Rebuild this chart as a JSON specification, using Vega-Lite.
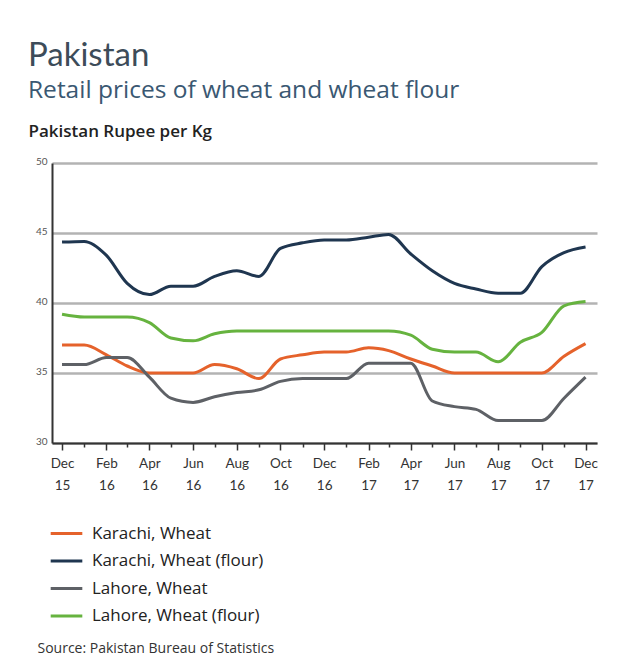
{
  "$schema": "https://vega.github.io/schema/vega-lite/v6.json",
  "width": 545,
  "height": 280,
  "autosize": "none",
  "padding": {"left": 52, "top": 163, "right": 25, "bottom": 223},
  "background": "white",
  "title": {
    "text": "Pakistan",
    "subtitle": "Retail prices of wheat and wheat flour",
    "anchor": "start",
    "offset": 20,
    "font": "Lato",
    "fontSize": 33,
    "fontWeight": "normal",
    "color": "#3d4c59",
    "subtitleFont": "Open Sans",
    "subtitleFontSize": 24.5,
    "subtitleColor": "#3a5872",
    "subtitlePadding": 6
  },
  "data": {
    "values": [
      {"date": "2015-12-01", "series": "Karachi, Wheat", "value": 37.0},
      {"date": "2016-01-01", "series": "Karachi, Wheat", "value": 37.0},
      {"date": "2016-02-01", "series": "Karachi, Wheat", "value": 36.3},
      {"date": "2016-03-01", "series": "Karachi, Wheat", "value": 35.5},
      {"date": "2016-04-01", "series": "Karachi, Wheat", "value": 35.0},
      {"date": "2016-05-01", "series": "Karachi, Wheat", "value": 35.0},
      {"date": "2016-06-01", "series": "Karachi, Wheat", "value": 35.0},
      {"date": "2016-07-01", "series": "Karachi, Wheat", "value": 35.6},
      {"date": "2016-08-01", "series": "Karachi, Wheat", "value": 35.3},
      {"date": "2016-09-01", "series": "Karachi, Wheat", "value": 34.6},
      {"date": "2016-10-01", "series": "Karachi, Wheat", "value": 36.0},
      {"date": "2016-11-01", "series": "Karachi, Wheat", "value": 36.3},
      {"date": "2016-12-01", "series": "Karachi, Wheat", "value": 36.5},
      {"date": "2017-01-01", "series": "Karachi, Wheat", "value": 36.5},
      {"date": "2017-02-01", "series": "Karachi, Wheat", "value": 36.8},
      {"date": "2017-03-01", "series": "Karachi, Wheat", "value": 36.6},
      {"date": "2017-04-01", "series": "Karachi, Wheat", "value": 36.0},
      {"date": "2017-05-01", "series": "Karachi, Wheat", "value": 35.5},
      {"date": "2017-06-01", "series": "Karachi, Wheat", "value": 35.0},
      {"date": "2017-07-01", "series": "Karachi, Wheat", "value": 35.0},
      {"date": "2017-08-01", "series": "Karachi, Wheat", "value": 35.0},
      {"date": "2017-09-01", "series": "Karachi, Wheat", "value": 35.0},
      {"date": "2017-10-01", "series": "Karachi, Wheat", "value": 35.0},
      {"date": "2017-11-01", "series": "Karachi, Wheat", "value": 36.2},
      {"date": "2017-12-01", "series": "Karachi, Wheat", "value": 37.1},
      {"date": "2015-12-01", "series": "Karachi, Wheat (flour)", "value": 44.35},
      {"date": "2016-01-01", "series": "Karachi, Wheat (flour)", "value": 44.4},
      {"date": "2016-02-01", "series": "Karachi, Wheat (flour)", "value": 43.4},
      {"date": "2016-03-01", "series": "Karachi, Wheat (flour)", "value": 41.4},
      {"date": "2016-04-01", "series": "Karachi, Wheat (flour)", "value": 40.6},
      {"date": "2016-05-01", "series": "Karachi, Wheat (flour)", "value": 41.2},
      {"date": "2016-06-01", "series": "Karachi, Wheat (flour)", "value": 41.2},
      {"date": "2016-07-01", "series": "Karachi, Wheat (flour)", "value": 41.9},
      {"date": "2016-08-01", "series": "Karachi, Wheat (flour)", "value": 42.3},
      {"date": "2016-09-01", "series": "Karachi, Wheat (flour)", "value": 41.9},
      {"date": "2016-10-01", "series": "Karachi, Wheat (flour)", "value": 43.9},
      {"date": "2016-11-01", "series": "Karachi, Wheat (flour)", "value": 44.3},
      {"date": "2016-12-01", "series": "Karachi, Wheat (flour)", "value": 44.5},
      {"date": "2017-01-01", "series": "Karachi, Wheat (flour)", "value": 44.5},
      {"date": "2017-02-01", "series": "Karachi, Wheat (flour)", "value": 44.7},
      {"date": "2017-03-01", "series": "Karachi, Wheat (flour)", "value": 44.9},
      {"date": "2017-04-01", "series": "Karachi, Wheat (flour)", "value": 43.5},
      {"date": "2017-05-01", "series": "Karachi, Wheat (flour)", "value": 42.3},
      {"date": "2017-06-01", "series": "Karachi, Wheat (flour)", "value": 41.4},
      {"date": "2017-07-01", "series": "Karachi, Wheat (flour)", "value": 41.0},
      {"date": "2017-08-01", "series": "Karachi, Wheat (flour)", "value": 40.7},
      {"date": "2017-09-01", "series": "Karachi, Wheat (flour)", "value": 40.7},
      {"date": "2017-10-01", "series": "Karachi, Wheat (flour)", "value": 42.6},
      {"date": "2017-11-01", "series": "Karachi, Wheat (flour)", "value": 43.6},
      {"date": "2017-12-01", "series": "Karachi, Wheat (flour)", "value": 44.0},
      {"date": "2015-12-01", "series": "Lahore, Wheat", "value": 35.6},
      {"date": "2016-01-01", "series": "Lahore, Wheat", "value": 35.6},
      {"date": "2016-02-01", "series": "Lahore, Wheat", "value": 36.1},
      {"date": "2016-03-01", "series": "Lahore, Wheat", "value": 36.1},
      {"date": "2016-04-01", "series": "Lahore, Wheat", "value": 34.7},
      {"date": "2016-05-01", "series": "Lahore, Wheat", "value": 33.2},
      {"date": "2016-06-01", "series": "Lahore, Wheat", "value": 32.9},
      {"date": "2016-07-01", "series": "Lahore, Wheat", "value": 33.3},
      {"date": "2016-08-01", "series": "Lahore, Wheat", "value": 33.6},
      {"date": "2016-09-01", "series": "Lahore, Wheat", "value": 33.8},
      {"date": "2016-10-01", "series": "Lahore, Wheat", "value": 34.4},
      {"date": "2016-11-01", "series": "Lahore, Wheat", "value": 34.6},
      {"date": "2016-12-01", "series": "Lahore, Wheat", "value": 34.6},
      {"date": "2017-01-01", "series": "Lahore, Wheat", "value": 34.6},
      {"date": "2017-02-01", "series": "Lahore, Wheat", "value": 35.7},
      {"date": "2017-03-01", "series": "Lahore, Wheat", "value": 35.7},
      {"date": "2017-04-01", "series": "Lahore, Wheat", "value": 35.7},
      {"date": "2017-05-01", "series": "Lahore, Wheat", "value": 33.0},
      {"date": "2017-06-01", "series": "Lahore, Wheat", "value": 32.6},
      {"date": "2017-07-01", "series": "Lahore, Wheat", "value": 32.4},
      {"date": "2017-08-01", "series": "Lahore, Wheat", "value": 31.6},
      {"date": "2017-09-01", "series": "Lahore, Wheat", "value": 31.6},
      {"date": "2017-10-01", "series": "Lahore, Wheat", "value": 31.6},
      {"date": "2017-11-01", "series": "Lahore, Wheat", "value": 33.2},
      {"date": "2017-12-01", "series": "Lahore, Wheat", "value": 34.7},
      {"date": "2015-12-01", "series": "Lahore, Wheat (flour)", "value": 39.2},
      {"date": "2016-01-01", "series": "Lahore, Wheat (flour)", "value": 39.0},
      {"date": "2016-02-01", "series": "Lahore, Wheat (flour)", "value": 39.0},
      {"date": "2016-03-01", "series": "Lahore, Wheat (flour)", "value": 39.0},
      {"date": "2016-04-01", "series": "Lahore, Wheat (flour)", "value": 38.6},
      {"date": "2016-05-01", "series": "Lahore, Wheat (flour)", "value": 37.5},
      {"date": "2016-06-01", "series": "Lahore, Wheat (flour)", "value": 37.3},
      {"date": "2016-07-01", "series": "Lahore, Wheat (flour)", "value": 37.8},
      {"date": "2016-08-01", "series": "Lahore, Wheat (flour)", "value": 38.0},
      {"date": "2016-09-01", "series": "Lahore, Wheat (flour)", "value": 38.0},
      {"date": "2016-10-01", "series": "Lahore, Wheat (flour)", "value": 38.0},
      {"date": "2016-11-01", "series": "Lahore, Wheat (flour)", "value": 38.0},
      {"date": "2016-12-01", "series": "Lahore, Wheat (flour)", "value": 38.0},
      {"date": "2017-01-01", "series": "Lahore, Wheat (flour)", "value": 38.0},
      {"date": "2017-02-01", "series": "Lahore, Wheat (flour)", "value": 38.0},
      {"date": "2017-03-01", "series": "Lahore, Wheat (flour)", "value": 38.0},
      {"date": "2017-04-01", "series": "Lahore, Wheat (flour)", "value": 37.7},
      {"date": "2017-05-01", "series": "Lahore, Wheat (flour)", "value": 36.7},
      {"date": "2017-06-01", "series": "Lahore, Wheat (flour)", "value": 36.5},
      {"date": "2017-07-01", "series": "Lahore, Wheat (flour)", "value": 36.5},
      {"date": "2017-08-01", "series": "Lahore, Wheat (flour)", "value": 35.8},
      {"date": "2017-09-01", "series": "Lahore, Wheat (flour)", "value": 37.2},
      {"date": "2017-10-01", "series": "Lahore, Wheat (flour)", "value": 37.9},
      {"date": "2017-11-01", "series": "Lahore, Wheat (flour)", "value": 39.8},
      {"date": "2017-12-01", "series": "Lahore, Wheat (flour)", "value": 40.1}
    ]
  },
  "mark": {"type": "line", "strokeWidth": 3, "interpolate": "monotone"},
  "encoding": {
    "x": {
      "field": "date",
      "type": "temporal",
      "scale": {
        "type": "utc",
        "domain": [
          {"year": 2015, "month": 11, "date": 17, "utc": true},
          {"year": 2017, "month": 12, "date": 17, "utc": true}
        ]
      },
      "axis": {
        "tickCount": {"interval": "month", "step": 1},
        "grid": false,
        "domainColor": "#333333",
        "domainWidth": 2,
        "tickColor": "#333333",
        "tickWidth": 1.5,
        "tickSize": {"condition": {"test": "utcmonth(datum.value) % 2 == 1", "value": 7}, "value": 4},
        "labelExpr": "utcmonth(datum.value) % 2 == 1 ? [utcFormat(datum.value, '%b'), utcFormat(datum.value, '%y')] : ''",
        "labelOverlap": false,
        "labelFlush": false,
        "labelFont": "Lato",
        "labelFontSize": 13.5,
        "labelColor": "#333333",
        "labelLineHeight": 22,
        "labelPadding": 6,
        "title": "Source: Pakistan Bureau of Statistics",
        "titleFont": "Open Sans",
        "titleFontSize": 14,
        "titleFontWeight": "normal",
        "titleColor": "#333333",
        "titleAlign": "left",
        "titleBaseline": "alphabetic",
        "titleAnchor": "start",
        "titleX": -15,
        "titleY": 209
      }
    },
    "y": {
      "field": "value",
      "type": "quantitative",
      "scale": {"domain": [30, 50], "nice": false, "zero": false},
      "axis": {
        "values": [30, 35, 40, 45, 50],
        "grid": true,
        "gridColor": "#b3b3b3",
        "gridWidth": 2.5,
        "domainColor": "#333333",
        "domainWidth": 2,
        "ticks": false,
        "labelFont": "Lato",
        "labelFontSize": 10,
        "labelColor": "#555555",
        "labelPadding": 5,
        "labelOffset": -2,
        "title": "Pakistan Rupee per Kg",
        "titleFont": "Open Sans",
        "titleFontSize": 17,
        "titleFontWeight": 600,
        "titleColor": "#222222",
        "titleAngle": 0,
        "titleAlign": "left",
        "titleBaseline": "alphabetic",
        "titleX": -24,
        "titleY": -27
      }
    },
    "color": {
      "field": "series",
      "type": "nominal",
      "scale": {
        "domain": ["Karachi, Wheat", "Karachi, Wheat (flour)", "Lahore, Wheat", "Lahore, Wheat (flour)"],
        "range": ["#e5622b", "#1f3650", "#5e6166", "#66b33f"]
      },
      "legend": {
        "orient": "none",
        "legendX": -3,
        "legendY": 353,
        "title": null,
        "padding": 0,
        "symbolType": "stroke",
        "symbolStrokeWidth": 3,
        "symbolSize": 1000,
        "rowPadding": 1.5,
        "labelOffset": 8,
        "labelLimit": 400,
        "labelFont": "Open Sans",
        "labelFontSize": 17,
        "labelColor": "#222222"
      }
    }
  },
  "config": {
    "view": {"stroke": null}
  }
}
